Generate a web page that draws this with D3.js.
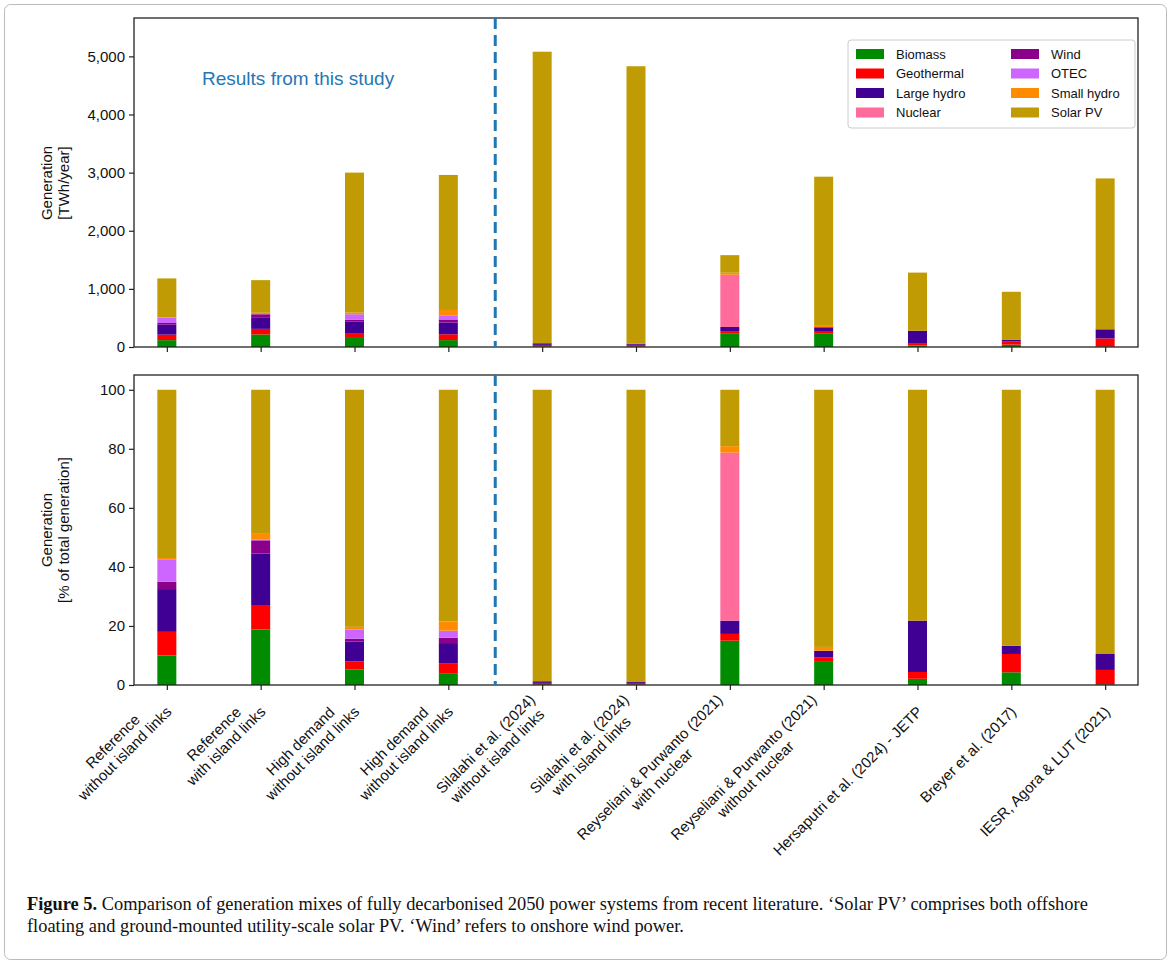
<!DOCTYPE html>
<html>
<head>
<meta charset="utf-8">
<script src="https://cdn.jsdelivr.net/npm/d3@7"></script>
<style>
  body { margin: 0; background: #fff; }
  .cap { position: absolute; left: 27px; top: 893px; width: 1112px; font-family: "Liberation Serif", "Times New Roman", serif; font-size: 18.4px; line-height: 22px; color: #111; }
</style>
</head>
<body>
<svg id="chart" width="1171" height="964"></svg>
<div class="cap"><b>Figure 5.</b> Comparison of generation mixes of fully decarbonised 2050 power systems from recent literature. ‘Solar PV’ comprises both offshore floating and ground-mounted utility-scale solar PV. ‘Wind’ refers to onshore wind power.</div>
<script>
// Scenarios (x axis)
var categories = [
    ['Reference', 'without island links'],
    ['Reference', 'with island links'],
    ['High demand', 'without island links'],
    ['High demand', 'without island links'],
    ['Silalahi et al. (2024)', 'without island links'],
    ['Silalahi et al. (2024)', 'with island links'],
    ['Reyseliani & Purwanto (2021)', 'with nuclear'],
    ['Reyseliani & Purwanto (2021)', 'without nuclear'],
    ['Hersaputri et al. (2024) - JETP'],
    ['Breyer et al. (2017)'],
    ['IESR, Agora & LUT (2021)']
];

// Total generation, TWh/year
var totals = [1180, 1150, 3000, 2960, 5080, 4830, 1580, 2930, 1280, 950, 2900];

// Technologies in stacking order
var techs = ['Biomass', 'Geothermal', 'Large hydro', 'Nuclear', 'Wind', 'OTEC', 'Small hydro', 'Solar PV'];
var techColors = ['#008b00', '#ff0000', '#400094', '#ff6b9b', '#8b008b', '#cc66ff', '#ff8c00', '#c09b03'];

// Shares, % of total generation (one array per technology)
var biomass    = [10.0, 18.8, 5.2, 4.0, 0.2, 0.2, 15.0, 8.1, 2.1, 4.3, 0.2];
var geothermal = [8.0, 8.3, 2.8, 3.4, 0.5, 0.5, 2.3, 1.3, 2.3, 6.2, 4.9];
var largeHydro = [14.5, 17.4, 6.7, 6.8, 0.3, 0.3, 4.5, 2.2, 17.4, 2.8, 5.4];
var nuclear    = [0, 0, 0, 0, 0, 0, 56.9, 0, 0, 0, 0];
var wind       = [2.5, 4.5, 1.0, 1.8, 0.3, 0.2, 0, 0, 0, 0, 0];
var otec       = [7.4, 0.2, 3.1, 2.4, 0, 0, 0, 0, 0, 0, 0];
var smallHydro = [0.6, 2.0, 0.9, 3.1, 0, 0, 2.2, 1.3, 0, 0, 0];
var solarPV    = [57.0, 48.8, 80.3, 78.5, 98.7, 98.8, 19.1, 87.1, 78.2, 86.7, 89.5];

var shares = [biomass, geothermal, largeHydro, nuclear, wind, otec, smallHydro, solarPV];

var font = 'Liberation Sans, Arial, sans-serif';
var svg = d3.select('#chart');

// outer frame
svg.append('rect').attr('x', 4.5).attr('y', 4.5).attr('width', 1162).attr('height', 955)
    .attr('rx', 6).attr('fill', 'none').attr('stroke', '#bbb');

var left = 134, right = 1138;
var x = d3.scaleLinear().domain([-0.35, categories.length - 1 + 0.35]).range([left, right]);
var barW = 19;

var yTop = d3.scaleLinear().domain([0, 5660]).range([347, 18]);
var yBot = d3.scaleLinear().domain([0, 105]).range([685, 375]);

function drawPanel(y, valueFn, ticks, fmt, labelLines, labelY) {
    var g = svg.append('g');
    techs.forEach(function(t, k) {
        g.selectAll(null).data(categories).enter().append('rect')
            .attr('x', function(d, i) { return x(i) - barW / 2; })
            .attr('width', barW)
            .attr('y', function(d, i) { return y(valueFn(i, k + 1)); })
            .attr('height', function(d, i) { return Math.max(0, y(valueFn(i, k)) - y(valueFn(i, k + 1))); })
            .attr('fill', techColors[k]);
    });
    // frame
    g.append('rect').attr('x', left).attr('y', y.range()[1]).attr('width', right - left)
        .attr('height', y.range()[0] - y.range()[1]).attr('fill', 'none').attr('stroke', '#222').attr('stroke-width', 1.3);
    var ax = d3.axisLeft(y).tickValues(ticks).tickFormat(fmt).tickSize(5).tickPadding(4);
    var axg = g.append('g').attr('transform', 'translate(' + left + ',0)').call(ax);
    axg.select('.domain').remove();
    axg.selectAll('text').attr('font-family', font).attr('font-size', 15).attr('fill', '#111');
    axg.selectAll('line').attr('stroke', '#222').attr('stroke-width', 1.2);
    var xa = d3.axisBottom(x).tickValues(d3.range(categories.length)).tickFormat('').tickSize(5);
    var xg = g.append('g').attr('transform', 'translate(0,' + y.range()[0] + ')').call(xa);
    xg.select('.domain').remove();
    xg.selectAll('line').attr('stroke', '#222').attr('stroke-width', 1.2);
    // dashed separator
    g.append('line').attr('x1', x(3.5)).attr('x2', x(3.5)).attr('y1', y.range()[1]).attr('y2', y.range()[0])
        .attr('stroke', '#1f77b4').attr('stroke-width', 3).attr('stroke-dasharray', '11,6');
    var lab = g.append('text').attr('transform', 'translate(52,' + labelY + ') rotate(-90)')
        .attr('text-anchor', 'middle').attr('font-family', font).attr('font-size', 15).attr('fill', '#111');
    labelLines.forEach(function(l, i) {
        lab.append('tspan').attr('x', 0).attr('dy', i === 0 ? 0 : 17).text(l);
    });
}

function cumShare(i, k) {
    var s = 0;
    for (var j = 0; j < k; j++) s += shares[j][i];
    return s;
}
function norm(i) { return d3.sum(shares, function(a) { return a[i]; }); }

drawPanel(yTop, function(i, k) { return cumShare(i, k) / norm(i) * totals[i]; },
    [0, 1000, 2000, 3000, 4000, 5000], d3.format(','), ['Generation', '[TWh/year]'], 183);
drawPanel(yBot, function(i, k) { return cumShare(i, k) / norm(i) * 100; },
    [0, 20, 40, 60, 80, 100], d3.format('d'), ['Generation', '[% of total generation]'], 530);

svg.append('text').attr('x', 202).attr('y', 85).attr('font-family', font).attr('font-size', 19)
    .attr('fill', '#1f77b4').text('Results from this study');

// x tick labels rotated 45°, lines centred, block right edge at the tick
categories.forEach(function(c, i) {
    var g = svg.append('g').attr('transform', 'translate(' + (x(i) - 2) + ',705) rotate(-45)');
    var texts = c.map(function(l, j) {
        return g.append('text').attr('y', 11 + (j - c.length + 1) * 17)
            .attr('text-anchor', 'middle').attr('font-family', font).attr('font-size', 15)
            .attr('fill', '#111').text(l);
    });
    var w = d3.max(texts, function(t) { return t.node().getComputedTextLength(); });
    texts.forEach(function(t) { t.attr('x', -w / 2); });
});

// legend
var lg = svg.append('g').attr('transform', 'translate(848,40)');
lg.append('rect').attr('width', 287).attr('height', 88).attr('rx', 3).attr('fill', '#fff')
    .attr('stroke', '#ccc');
techs.forEach(function(t, k) {
    var col = Math.floor(k / 4), row = k % 4;
    var e = lg.append('g').attr('transform', 'translate(' + (8 + col * 155) + ',' + (9 + row * 19.5) + ')');
    e.append('rect').attr('width', 28).attr('height', 10).attr('fill', techColors[k]);
    e.append('text').attr('x', 40).attr('y', 9.5).attr('font-family', font).attr('font-size', 13)
        .attr('fill', '#111').text(t);
});
</script>
</body>
</html>
